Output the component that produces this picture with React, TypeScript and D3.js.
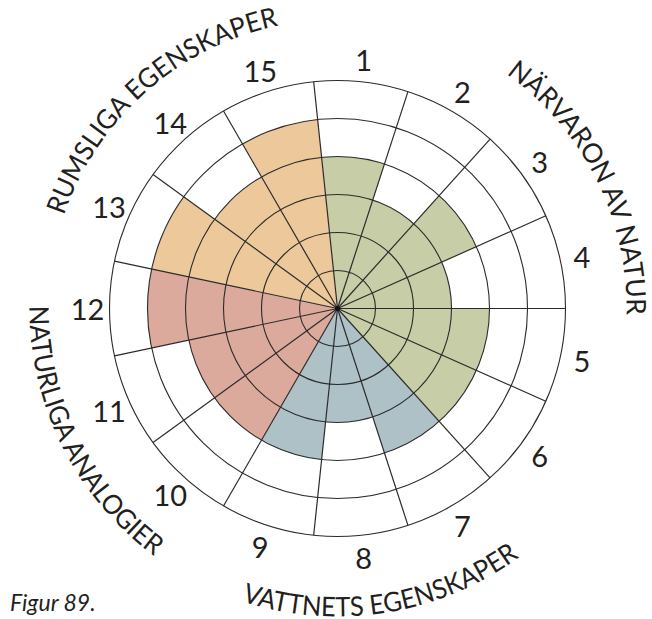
import React from 'react';
import * as d3 from 'd3';

// sector numbers, clockwise from the top
const sectors = ['1', '2', '3', '4', '5', '6', '7', '8', '9', '10', '11', '12', '13', '14', '15'];
// score of each sector (rings 0-6)
const values = [4, 3, 4, 3, 4, 4, 4, 3, 4, 4, 4, 5, 5, 4, 5];
// which group each sector belongs to
const groupOf = ['nat', 'nat', 'nat', 'nat', 'nat', 'nat', 'vat', 'vat', 'vat', 'ana', 'ana', 'ana', 'rum', 'rum', 'rum'];
const groups = ['nat', 'vat', 'ana', 'rum'];
const groupColors = ['#c7cda6', '#aec1c7', '#dcaa9c', '#ecc89b'];
const rings = [1, 2, 3, 4, 5, 6];

// curved group titles: text, centre angle (deg), clockwise or not
const titles = [
  { text: 'NÄRVARON AV NATUR', mid: 63.5, outward: true },
  { text: 'VATTNETS EGENSKAPER', mid: 171, outward: false },
  { text: 'NATURLIGA ANALOGIER', mid: 243.5, outward: false },
  { text: 'RUMSLIGA EGENSKAPER', mid: 318.5, outward: true },
];
const titleLengths = [280, 292, 290, 300];

const W = 652;
const H = 619;
const cx = 337.5;
const cy = 308.5;
const R = 228;
const font = 'Lato, "Open Sans", sans-serif';
const ink = '#231f20';

const App = () => {
  const r = d3.scaleLinear().domain([0, 6]).range([0, R]);
  const step = (2 * Math.PI) / sectors.length;
  const offset = (-6 * Math.PI) / 180;
  const a0 = (i: number) => offset + i * step;
  const color = d3.scaleOrdinal<string, string>().domain(groups).range(groupColors);

  const arc = d3.arc<number>()
    .innerRadius(0)
    .outerRadius(d => r(values[d]))
    .startAngle(d => a0(d))
    .endAngle(d => a0(d) + step);

  const pt = (a: number, rad: number) => [cx + rad * Math.sin(a), cy - rad * Math.cos(a)];

  const titlePath = (mid: number, outward: boolean) => {
    const m = (mid * Math.PI) / 180;
    const span = (60 * Math.PI) / 180;
    const rad = outward ? 289 : 308;
    if (outward) {
      const [x0, y0] = pt(m - span, rad);
      const [x1, y1] = pt(m + span, rad);
      return `M${x0},${y0} A${rad},${rad} 0 0 1 ${x1},${y1}`;
    }
    const [x0, y0] = pt(m + span, rad);
    const [x1, y1] = pt(m - span, rad);
    return `M${x0},${y0} A${rad},${rad} 0 0 0 ${x1},${y1}`;
  };

  return (
    <svg width={W} height={H} style={{ position: 'absolute', left: 0, top: 0, background: '#fff' }}>
      <defs>
        {titles.map((t, i) => (
          <path key={i} id={`title-${i}`} d={titlePath(t.mid, t.outward)} fill="none" />
        ))}
      </defs>
      <g transform={`translate(${cx},${cy})`}>
        {sectors.map((s, i) => (
          <path key={s} d={arc(i) || ''} fill={color(groupOf[i])} />
        ))}
        {rings.map(k => (
          <circle key={k} r={r(k)} fill="none" stroke="#2b2b2b" strokeWidth={1.1} />
        ))}
        {sectors.map((s, i) => {
          const [x, y] = pt(a0(i), R);
          return <line key={s} x1={0} y1={0} x2={x - cx} y2={y - cy} stroke="#2b2b2b" strokeWidth={1.2} />;
        })}
        <circle r={2.5} fill="#111" />
      </g>
      {sectors.map((s, i) => {
        const [x, y] = pt(a0(i) + step / 2, 250);
        return (
          <text key={s} x={x} y={y} textAnchor="middle" dominantBaseline="central"
            fontFamily={font} fontSize={29} fill={ink}>{s}</text>
        );
      })}
      {titles.map((t, i) => (
        <text key={t.text} fontFamily={font} fontSize={27} fill={ink}>
          <textPath href={`#title-${i}`} startOffset="50%" textAnchor="middle"
            textLength={titleLengths[i]} lengthAdjust="spacingAndGlyphs">{t.text}</textPath>
        </text>
      ))}
      <text x={10} y={611} fontFamily={font} fontStyle="italic" fontSize={23} fill={ink}>Figur 89.</text>
    </svg>
  );
};

export default App;
